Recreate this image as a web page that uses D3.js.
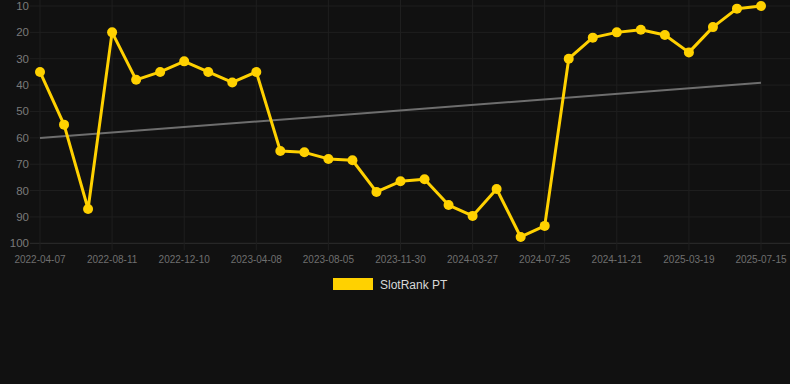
<!DOCTYPE html>
<html>
<head>
<meta charset="utf-8">
<script src="https://cdn.jsdelivr.net/npm/d3@7"></script>
<style>
  html, body { margin: 0; padding: 0; background: #111111; }
  svg { display: block; font-family: Arial, "Liberation Sans", sans-serif; }
</style>
</head>
<body>
<svg id="chart"></svg>
<script>
var dates = [
  "2022-04-07", "2022-05-19", "2022-06-30", "2022-08-11", "2022-09-20", "2022-10-30",
  "2022-12-10", "2023-01-18", "2023-02-27", "2023-04-08", "2023-05-17", "2023-06-26",
  "2023-08-05", "2023-09-13", "2023-10-22", "2023-11-30", "2024-01-08", "2024-02-17",
  "2024-03-27", "2024-05-06", "2024-06-15", "2024-07-25", "2024-09-02", "2024-10-12",
  "2024-11-21", "2024-12-30", "2025-02-07", "2025-03-19", "2025-04-27", "2025-06-05",
  "2025-07-15"
];
var ranks = [
  35, 55, 87, 20, 38, 35, 31, 35, 39, 35,
  65, 65.5, 68, 68.5, 80.5, 76.5, 75.7, 85.5, 89.6, 79.4,
  97.6, 93.4, 30, 22, 20, 19, 21, 27.6, 18, 11, 10
];
var trendEnds = [60.1, 39.1];
var yTicks = [10, 20, 30, 40, 50, 60, 70, 80, 90, 100];
var seriesName = "SlotRank PT";

var width = 790,
    height = 384,
    plotLeft = 40,
    plotRight = 761,
    plotTop = 6,
    plotBottom = 243.3;

var svg = d3.select("#chart")
    .attr("width", width)
    .attr("height", height);

var x = d3.scalePoint()
    .domain(dates)
    .range([plotLeft, plotRight]);

var y = d3.scaleLinear()
    .domain([10, 100])
    .range([plotTop, plotBottom]);

// grid
svg.append("g")
    .selectAll("line")
    .data(yTicks)
    .enter().append("line")
    .attr("x1", 30)
    .attr("x2", width)
    .attr("y1", function(d) { return y(d); })
    .attr("y2", function(d) { return y(d); })
    .attr("stroke", function(d) { return d === 100 ? "#2e2e2e" : "#1f1f1f"; })
    .attr("stroke-width", 1);

var tickDates = dates.filter(function(d, i) { return i % 3 === 0; });

svg.append("g")
    .selectAll("line")
    .data(tickDates)
    .enter().append("line")
    .attr("x1", function(d) { return x(d); })
    .attr("x2", function(d) { return x(d); })
    .attr("y1", 0)
    .attr("y2", plotBottom + 7)
    .attr("stroke", "#1f1f1f")
    .attr("stroke-width", 1);

// y labels
svg.append("g")
    .selectAll("text")
    .data(yTicks)
    .enter().append("text")
    .attr("x", 29)
    .attr("y", function(d) { return y(d); })
    .attr("dy", "0.35em")
    .attr("text-anchor", "end")
    .attr("fill", "#7a7a7a")
    .style("font-size", "11.5px")
    .text(function(d) { return d; });

// x labels
svg.append("g")
    .selectAll("text")
    .data(tickDates)
    .enter().append("text")
    .attr("x", function(d) { return x(d); })
    .attr("y", 259.5)
    .attr("dy", "0.35em")
    .attr("text-anchor", "middle")
    .attr("fill", "#6f6f6f")
    .style("font-size", "10px")
    .text(function(d) { return d; });

// trend line
svg.append("line")
    .attr("x1", x(dates[0]))
    .attr("x2", x(dates[dates.length - 1]))
    .attr("y1", y(trendEnds[0]))
    .attr("y2", y(trendEnds[1]))
    .attr("stroke", "#6e6e6e")
    .attr("stroke-width", 2);

// series
var line = d3.line()
    .x(function(d, i) { return x(dates[i]); })
    .y(function(d) { return y(d); });

svg.append("path")
    .datum(ranks)
    .attr("d", line)
    .attr("fill", "none")
    .attr("stroke", "#ffd100")
    .attr("stroke-width", 3)
    .attr("stroke-linejoin", "round");

svg.append("g")
    .selectAll("circle")
    .data(ranks)
    .enter().append("circle")
    .attr("cx", function(d, i) { return x(dates[i]); })
    .attr("cy", function(d) { return y(d); })
    .attr("r", 5)
    .attr("fill", "#ffd100");

// legend
var legend = svg.append("g");
legend.append("rect")
    .attr("x", 333)
    .attr("y", 278)
    .attr("width", 40)
    .attr("height", 12)
    .attr("fill", "#ffd100");
legend.append("text")
    .attr("x", 380)
    .attr("y", 284.5)
    .attr("dy", "0.35em")
    .attr("fill", "#d8d8d8")
    .style("font-size", "12px")
    .text(seriesName);
</script>
</body>
</html>
